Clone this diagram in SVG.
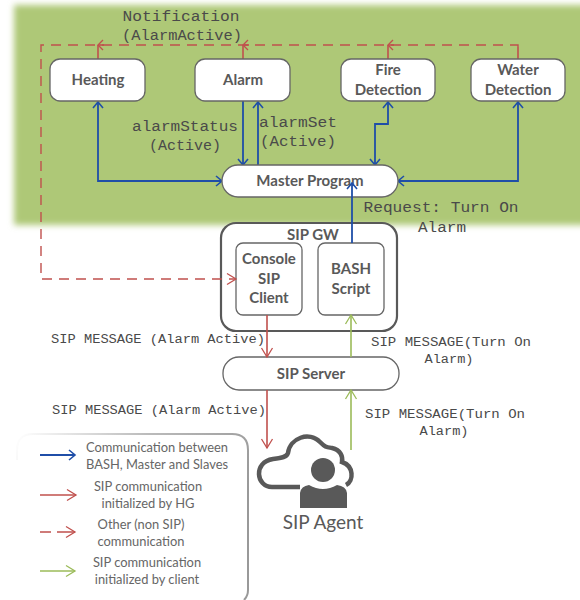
<svg xmlns="http://www.w3.org/2000/svg" width="580" height="600" viewBox="0 0 580 600">
<style>
.n{fill:#fff;stroke:#666;stroke-width:1.3}
.t{font-family:Lato,"Liberation Sans",sans-serif;font-weight:700;font-size:15px;fill:#595959;text-anchor:middle}
.m{font-family:"Liberation Mono",monospace;font-size:14px;fill:#4a4a4a;text-anchor:middle}
.s{font-size:12.5px}
.l{font-family:Lato,"Liberation Sans",sans-serif;font-size:12.9px;fill:#666;text-anchor:middle}
.b,.r,.d,.g{fill:none;stroke-width:1.6}
.b{stroke:#1f4ea8;stroke-width:1.8}
.r{stroke:#c0504d}
.d{stroke:#c0504d;stroke-dasharray:10 7;stroke-width:1.4}
.g{stroke:#9bbb59}
</style>
<defs>
<filter id="blur" x="-5%" y="-10%" width="110%" height="120%"><feGaussianBlur stdDeviation="3"/></filter>
<linearGradient id="lg" x1="0" y1="0" x2="1" y2="0.35"><stop offset="0" stop-color="#fff"/><stop offset="0.5" stop-color="#bbb"/><stop offset="1" stop-color="#999"/></linearGradient>
<marker id="ab" markerWidth="12" markerHeight="12" refX="10" refY="6" orient="auto-start-reverse" markerUnits="userSpaceOnUse"><path d="M4 1 L10 6 L4 11" fill="none" stroke="#1f4ea8" stroke-width="1.6"/></marker>
<marker id="ar" markerWidth="14" markerHeight="14" refX="12" refY="7" orient="auto" markerUnits="userSpaceOnUse"><path d="M3 1.5 L12 7 L3 12.5" fill="none" stroke="#c0504d" stroke-width="1.3"/></marker>
<marker id="as" markerWidth="10" markerHeight="12" refX="8" refY="6" orient="auto" markerUnits="userSpaceOnUse"><path d="M3 1 L8 6 L3 11" fill="none" stroke="#c0504d" stroke-width="1.3"/></marker>
<marker id="ag" markerWidth="14" markerHeight="14" refX="12" refY="7" orient="auto" markerUnits="userSpaceOnUse"><path d="M3 1.5 L12 7 L3 12.5" fill="none" stroke="#9bbb59" stroke-width="1.3"/></marker>
</defs>
<rect x="14" y="5" width="580" height="220" fill="#aec877" filter="url(#blur)"/>
<g id="connectors">
<path class="r" d="M98 59V45"/><path class="r" d="M243 59V45"/><path class="r" d="M388 59V45"/><path class="r" d="M518 59V47"/>
<path class="r" d="M104 45H98" marker-end="url(#as)"/><path class="r" d="M249 45H243" marker-end="url(#as)"/><path class="r" d="M394 45H388" marker-end="url(#as)"/>
<path class="b" d="M98 102V181H222" marker-start="url(#ab)" marker-end="url(#ab)"/>
<path class="b" d="M243 101V165" marker-end="url(#ab)"/>
<path class="b" d="M258 165V102" marker-end="url(#ab)"/>
<path class="b" d="M388 102V124H375V165" marker-start="url(#ab)" marker-end="url(#ab)"/>
<path class="b" d="M518 102V181H398" marker-start="url(#ab)" marker-end="url(#ab)"/>
</g>
<g id="heating"><rect class="n" x="50" y="59" width="95" height="42" rx="10"/><text class="t" x="98" y="85">Heating</text></g>
<g id="alarm"><rect class="n" x="195" y="59" width="95" height="42" rx="10"/><text class="t" x="243" y="85">Alarm</text></g>
<g id="fire"><rect class="n" x="341" y="59" width="94" height="42" rx="10"/><text class="t" x="388" y="75">Fire</text><text class="t" x="388" y="95">Detection</text></g>
<g id="water"><rect class="n" x="471" y="59" width="94" height="42" rx="10"/><text class="t" x="518" y="75">Water</text><text class="t" x="518" y="95">Detection</text></g>
<g id="master"><rect class="n" x="222" y="165" width="176" height="32" rx="16"/><text class="t" x="310" y="186">Master Program</text></g>
<g id="sipgw"><rect x="221" y="223" width="176" height="108" rx="15" fill="#fff" stroke="#595959" stroke-width="2.2"/><text class="t" x="313" y="240">SIP GW</text></g>
<g id="console"><rect class="n" x="236" y="243" width="66" height="72" rx="7"/><text class="t" x="269" y="264">Console</text><text class="t" x="269" y="284">SIP</text><text class="t" x="269" y="303">Client</text></g>
<g id="bash"><rect class="n" x="318" y="243" width="66" height="72" rx="7"/><text class="t" x="351" y="274">BASH</text><text class="t" x="351" y="294">Script</text></g>
<g id="sipserver"><rect class="n" x="223" y="357" width="176" height="33" rx="16"/><text class="t" x="311" y="379">SIP Server</text></g>
<g id="connectors2">
<path class="d" d="M518 47V45H41V279H236" marker-end="url(#ar)"/>
<path class="b" d="M352 243V183" marker-end="url(#ab)"/>
<path class="r" d="M267 315V357" marker-end="url(#ar)"/>
<path class="r" d="M267 390V448" marker-end="url(#ar)"/>
<path class="g" d="M351 357V315" marker-end="url(#ag)"/>
<path class="g" d="M351 450V390" marker-end="url(#ag)"/>
</g>
<g id="labels">
<text class="m" x="181" y="21" textLength="117" lengthAdjust="spacingAndGlyphs">Notification</text>
<text class="m" x="182" y="40" textLength="120" lengthAdjust="spacingAndGlyphs">(AlarmActive)</text>
<text class="m" x="185" y="131" textLength="106" lengthAdjust="spacingAndGlyphs">alarmStatus</text>
<text class="m" x="185" y="150" textLength="72" lengthAdjust="spacingAndGlyphs">(Active)</text>
<text class="m" x="298" y="127" textLength="78" lengthAdjust="spacingAndGlyphs">alarmSet</text>
<text class="m" x="298" y="146" textLength="76" lengthAdjust="spacingAndGlyphs">(Active)</text>
<text class="m" x="441" y="212" textLength="155" lengthAdjust="spacingAndGlyphs">Request: Turn On</text>
<text class="m" x="442" y="232" textLength="48" lengthAdjust="spacingAndGlyphs">Alarm</text>
<text class="m s" x="158" y="343" textLength="214" lengthAdjust="spacingAndGlyphs">SIP MESSAGE (Alarm Active)</text>
<text class="m s" x="451" y="346" textLength="160" lengthAdjust="spacingAndGlyphs">SIP MESSAGE(Turn On</text>
<text class="m s" x="449" y="363" textLength="49" lengthAdjust="spacingAndGlyphs">Alarm)</text>
<text class="m s" x="159" y="414" textLength="214" lengthAdjust="spacingAndGlyphs">SIP MESSAGE (Alarm Active)</text>
<text class="m s" x="445" y="418" textLength="160" lengthAdjust="spacingAndGlyphs">SIP MESSAGE(Turn On</text>
<text class="m s" x="444" y="435" textLength="49" lengthAdjust="spacingAndGlyphs">Alarm)</text>
</g>
<g id="legend">
<path d="M17 460V450Q17 434 33 434H232Q248 434 248 450V590Q248 596 244 600" fill="none" stroke="url(#lg)" stroke-width="2"/>
<path class="b" d="M40 455H75" marker-end="url(#ab)"/>
<path class="r" d="M40 495H76" marker-end="url(#ar)"/>
<path class="r" d="M40 532H51M57 532H75" marker-end="url(#ar)"/>
<path class="g" d="M40 571H75" marker-end="url(#ag)"/>
<text class="l" x="157" y="452">Communication between</text>
<text class="l" x="157" y="469">BASH, Master and Slaves</text>
<text class="l" x="148" y="491">SIP communication</text>
<text class="l" x="148" y="508">initialized by HG</text>
<text class="l" x="141" y="529">Other (non SIP)</text>
<text class="l" x="141" y="546">communication</text>
<text class="l" x="147" y="567">SIP communication</text>
<text class="l" x="147" y="584">initialized by client</text>
</g>
<g id="sipagent">
<path d="M300 487H272C256 487 253 462 273 459C282 458 287 457 288 453C290 438 309 431 320 442C325 447 326 447 332 448C341 450 343 457 342 462C354 466 354 481 346 485" fill="none" stroke="#595959" stroke-width="4.5"/>
<circle cx="323" cy="470" r="12" fill="#595959"/>
<path d="M300 508V493Q301 486 309 485Q323 493 337 485Q346 486 347 493V508Z" fill="#595959"/>
<text x="323" y="529" style="font-family:Lato,'Liberation Sans',sans-serif;font-size:19px;fill:#595959;text-anchor:middle">SIP Agent</text>
</g>
</svg>
